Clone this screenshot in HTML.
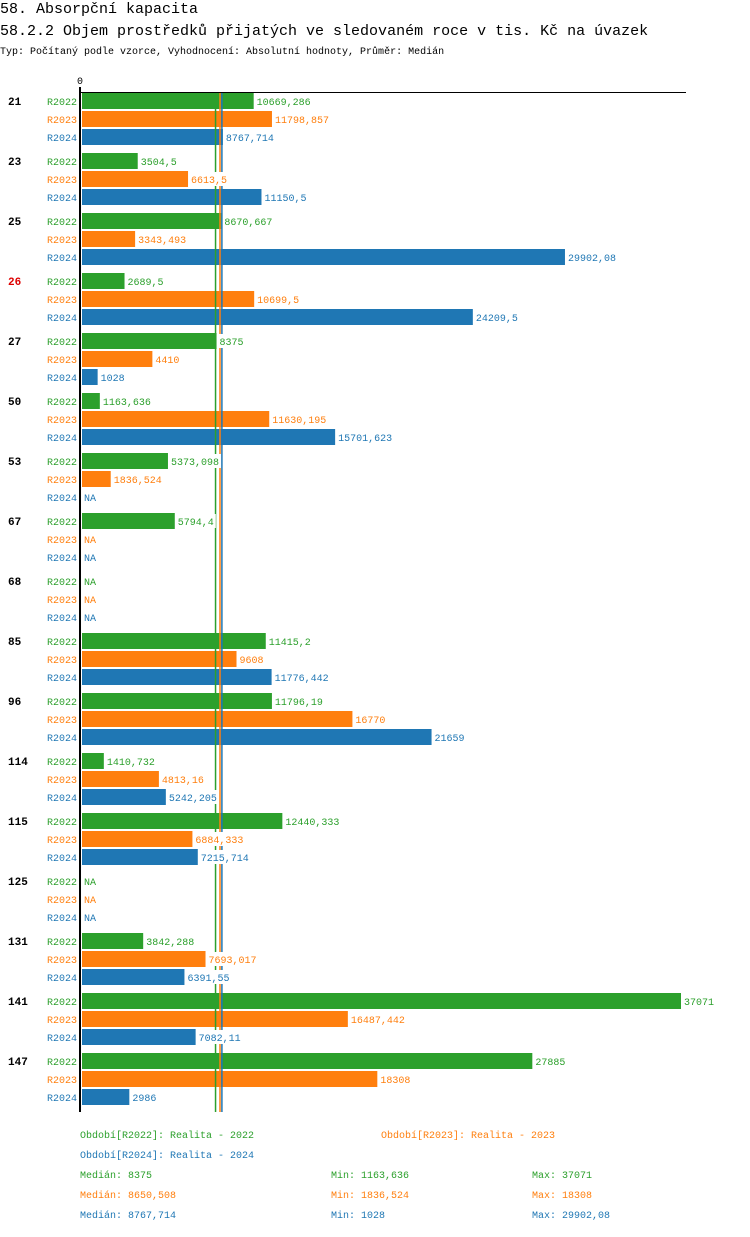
<!DOCTYPE html>
<html><head><meta charset="utf-8"><style>
body{margin:0;background:#fff;width:750px;height:1232px;overflow:hidden}
svg text{font-family:"Liberation Mono",monospace}
</style></head><body>
<svg width="750" height="1232">
<text x="0" y="13" font-size="15">58. Absorpční kapacita</text>
<text x="0" y="35" font-size="15">58.2.2 Objem prostředků přijatých ve sledovaném roce v tis. Kč na úvazek</text>
<text x="0" y="54" font-size="10">Typ: Počítaný podle vzorce, Vyhodnocení: Absolutní hodnoty, Průměr: Medián</text>
<text x="77" y="84" font-size="10">0</text>
<g id="plot"></g>
<g id="legend" font-size="10"></g>
</svg>
<script>
const categories=["21","23","25","26","27","50","53","67","68","85","96","114","115","125","131","141","147"];
const r2022=[10669.286,3504.5,8670.667,2689.5,8375,1163.636,5373.098,5794.4,null,11415.2,11796.19,1410.732,12440.333,null,3842.288,37071,27885];
const r2023=[11798.857,6613.5,3343.493,10699.5,4410,11630.195,1836.524,null,null,9608,16770,4813.16,6884.333,null,7693.017,16487.442,18308];
const r2024=[8767.714,11150.5,29902.08,24209.5,1028,15701.623,null,null,null,11776.442,21659,5242.205,7215.714,null,6391.55,7082.11,2986];
const seriesNames=["R2022","R2023","R2024"];
const medians=[8375,8650.508,8767.714];
const colors=["#2ca02c","#ff7f0e","#1f77b4"];
const NS="http://www.w3.org/2000/svg";
const plot=document.getElementById('plot');
const x0=81, sc=600/37071;
const xs=v=>x0+v*sc;
function mk(tag,attrs,txt){const e=document.createElementNS(NS,tag);for(const k in attrs)e.setAttribute(k,attrs[k]);if(txt!=null)e.textContent=txt;return e;}
const fmt=v=>String(+v.toFixed(3)).replace('.',',');
const series=[r2022,r2023,r2024];
const labels=[];
categories.forEach((c,i)=>{
  const gy=92+i*60;
  const t=mk('text',{x:8,y:gy+13,'font-size':11,'font-weight':'bold',fill:c==="26"?"#d00":"#000"},c);
  
  
  plot.appendChild(t);
  series.forEach((s,j)=>{
    const y=gy+1+j*18;
    const l=mk('text',{x:47,y:y+12,'font-size':10,fill:colors[j]},seriesNames[j]);
    
    
    plot.appendChild(l);
    const v=s[i];
    if(v!=null){
      const r=mk('rect',{x:x0+1,y:y,width:Math.max(0,xs(v)-x0-1),height:16,fill:colors[j]});
      
      
      plot.appendChild(r);
    }
    labels.push([(v!=null?xs(v):x0)+2,y,j,v!=null?fmt(v):"NA"]);
  });
});
medians.forEach((m,j)=>{
  const l=mk('line',{x1:xs(m)-1,x2:xs(m)-1,y1:92,y2:1112,stroke:colors[j],'stroke-width':1.5});
  
  
  plot.appendChild(l);
});
labels.forEach(L=>{
  const bg=mk('rect',{x:L[0],y:L[1]+1,width:L[3].length*6+3,height:14,fill:'#fff'});
  
  
  plot.appendChild(bg);
  const vt=mk('text',{x:L[0]+1,y:L[1]+12,'font-size':10,fill:colors[L[2]]},L[3]);
  
  
  plot.appendChild(vt);
});
const ax=mk('line',{x1:80,x2:80,y1:87,y2:1112,stroke:'#000','stroke-width':2});


plot.appendChild(ax);
const tx=mk('line',{x1:80,x2:686,y1:92.5,y2:92.5,stroke:'#000','stroke-width':1});


plot.appendChild(tx);
const leg=document.getElementById('legend');
const items=[
 [80,1138,0,"Období[R2022]: Realita - 2022"],[381,1138,1,"Období[R2023]: Realita - 2023"],
 [80,1158,2,"Období[R2024]: Realita - 2024"],
 [80,1178,0,"Medián: 8375"],[331,1178,0,"Min: 1163,636"],[532,1178,0,"Max: 37071"],
 [80,1198,1,"Medián: 8650,508"],[331,1198,1,"Min: 1836,524"],[532,1198,1,"Max: 18308"],
 [80,1218,2,"Medián: 8767,714"],[331,1218,2,"Min: 1028"],[532,1218,2,"Max: 29902,08"]];
items.forEach(it=>{
  const t=mk('text',{x:it[0],y:it[1],fill:colors[it[2]]},it[3]);
  
  
  leg.appendChild(t);
});
</script>
</body></html>
